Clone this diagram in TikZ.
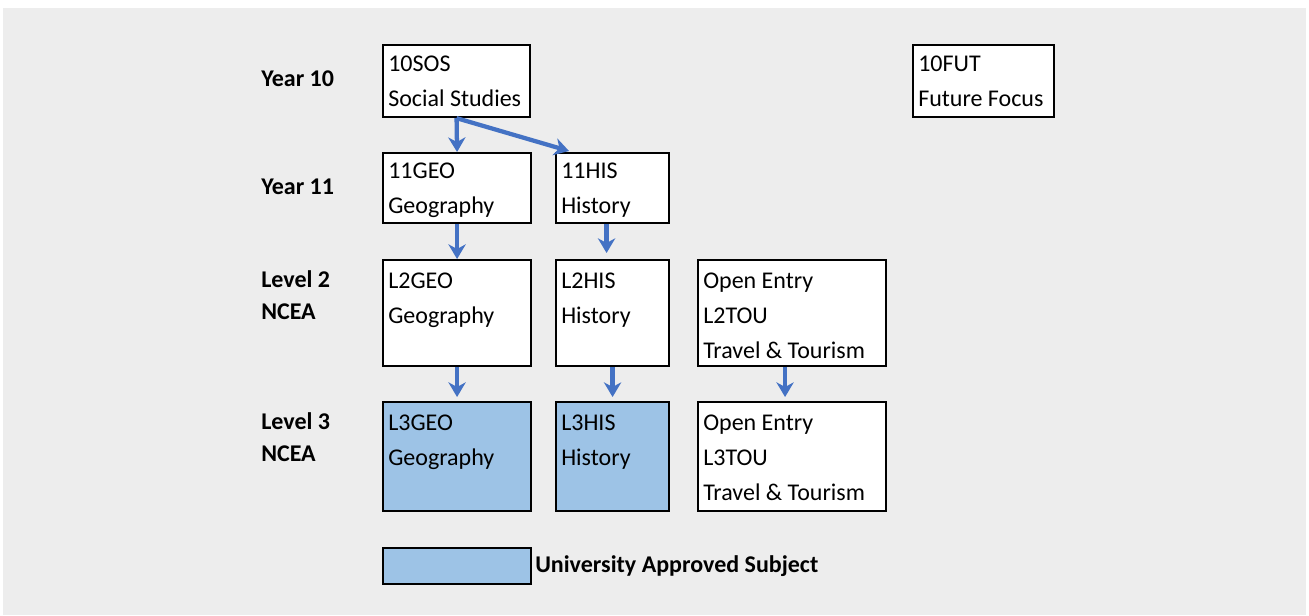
\documentclass[tikz,border=0pt]{standalone}
\usepackage{fontspec}
\setmainfont{Carlito}
\usetikzlibrary{arrows.meta,calc}

\definecolor{pagegrey}{HTML}{EDEDED}
\definecolor{flowblue}{HTML}{4472C4}
\definecolor{uefill}{HTML}{9DC3E6}

\tikzset{
  course/.style 2 args={draw, line width=1.6pt, fill=white, inner sep=0pt,
    anchor=north west, minimum width=#1*0.75pt, minimum height=#2*0.75pt},
  approved/.style={fill=uefill},
  txt/.style={anchor=base west, inner sep=0pt, font=\fontsize{18}{26.5}\selectfont},
  yearlbl/.style={anchor=base west, inner sep=0pt, font=\fontsize{18}{24}\selectfont\bfseries},
  flow/.style={draw=flowblue, line width=3.2pt,
    -{Stealth[length=11pt, width=13pt, inset=3.5pt]}}
}

\newcommand{\lines}[1]{\parbox[t]{6cm}{\raggedright #1}}

\begin{document}
\begin{tikzpicture}[x=0.75pt, y=-0.75pt]
    % Page
    \useasboundingbox (0,0) rectangle (1309,615);
    \fill[pagegrey] (3,8) rectangle (1306,615);

    % Year labels
    \node[yearlbl] (y10) at (261,86) {Year 10};
    \node[yearlbl] (y11) at (261,194) {Year 11};
    \node[yearlbl] (l2) at (261,287) {\lines{Level 2\\NCEA}};
    \node[yearlbl] (l3) at (261,429) {\lines{Level 3\\NCEA}};

    % Year 10
    \node[course={147}{72}] (sos) at (382,44) {};
    \node[txt] (sos-t) at (388,71) {\lines{10SOS\\Social Studies}};
    \node[course={141}{72}] (fut) at (912,44) {};
    \node[txt] (fut-t) at (918,71) {\lines{10FUT\\Future Focus}};

    % Year 11
    \node[course={148}{70}] (geo1) at (382,152) {};
    \node[txt] (geo1-t) at (388,178) {\lines{11GEO\\Geography}};
    \node[course={113}{70}] (his1) at (555,152) {};
    \node[txt] (his1-t) at (561,178) {\lines{11HIS\\History}};

    % Level 2
    \node[course={148}{106}] (geo2) at (382,259) {};
    \node[txt] (geo2-t) at (388,288) {\lines{L2GEO\\Geography}};
    \node[course={113}{106}] (his2) at (555,259) {};
    \node[txt] (his2-t) at (561,288) {\lines{L2HIS\\History}};
    \node[course={188}{106}] (tou2) at (697,259) {};
    \node[txt] (tou2-t) at (703,288) {\lines{Open Entry\\L2TOU\\Travel \& Tourism}};

    % Level 3
    \node[course={148}{109}, approved] (geo3) at (382,401) {};
    \node[txt] (geo3-t) at (388,430) {\lines{L3GEO\\Geography}};
    \node[course={113}{109}, approved] (his3) at (555,401) {};
    \node[txt] (his3-t) at (561,430) {\lines{L3HIS\\History}};
    \node[course={188}{109}] (tou3) at (697,401) {};
    \node[txt] (tou3-t) at (703,430) {\lines{Open Entry\\L3TOU\\Travel \& Tourism}};

    % Key
    \node[course={148}{36}, approved] (key) at (382,547) {};
    \node[yearlbl] (key-t) at (535,572) {University Approved Subject};

    % Pathways
    \draw[flow] (sos.south) -- (geo1.north);
    \draw[flow] (sos.south) -- ($(his1.north west)+(14,-1)$);
    \draw[flow] (geo1.south) -- (geo2.north);
    \draw[flow] ($(his1.south)+(-6,0)$) -- ($(his2.north)+(-6,-6)$);
    \draw[flow] (geo2.south) -- ($(geo3.north)+(0,-4)$);
    \draw[flow] (his2.south) -- ($(his3.north)+(0,-4)$);
    \draw[flow] ($(tou2.south)+(-7,0)$) -- ($(tou3.north)+(-7,-4)$);

\end{tikzpicture}
\end{document}
